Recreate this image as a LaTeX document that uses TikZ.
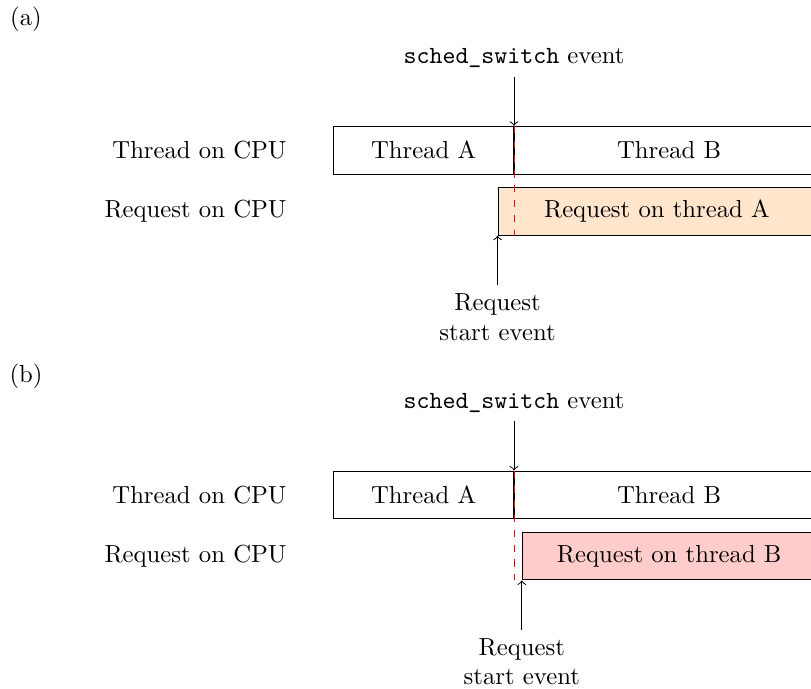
\documentclass[tikz,border=0pt]{standalone}
\usetikzlibrary{positioning}
\begin{document}
\begin{tikzpicture}[slot/.style={draw, minimum height=0.68cm, inner sep=0pt, anchor=north west}, cpu/.style={anchor=east}, evt/.style={align=center}]
	\useasboundingbox (0,0) rectangle (11.54,-9.80);
	% (a) request starts before the switch
	\node (tag-a) at (0.37,-0.28) {(a)};
	\node[slot, minimum width=2.56cm] (thrA-a) at (4.74,-1.79) {Thread A};
	\node[slot, minimum width=4.4cm] (thrB-a) at (thrA-a.north east) {Thread B};
	\node[slot, minimum width=4.52cm, fill=orange!20] (req-a) at (7.08,-2.66) {Request on thread A};
	\node[left=0.54cm of thrA-a] (cputhr-a) {Thread on CPU};
	\node[cpu] (cpureq-a) at (cputhr-a.east |- req-a) {Request on CPU};
	\node[above=0.7cm of thrA-a.north east] (switch-a) {\texttt{sched\_switch} event};
	\node[evt, below=0.7cm of req-a.south west] (start-a) {Request\\start event};
	%%%%%%%%%%%%%
	\draw[red, dashed] (thrA-a.north east) -- (thrA-a.north east |- req-a.south);
	\draw[->] (switch-a) -- (thrA-a.north east);
	\draw[->] (start-a) -- (req-a.south west);
	% (b) request starts after the switch
	\node (tag-b) at (0.37,-5.36) {(b)};
	\node[slot, minimum width=2.56cm] (thrA-b) at (4.74,-6.695) {Thread A};
	\node[slot, minimum width=4.4cm] (thrB-b) at (thrA-b.north east) {Thread B};
	\node[slot, minimum width=4.18cm, fill=red!20] (req-b) at (7.425,-7.565) {Request on thread B};
	\node[left=0.54cm of thrA-b] (cputhr-b) {Thread on CPU};
	\node[cpu] (cpureq-b) at (cputhr-b.east |- req-b) {Request on CPU};
	\node[above=0.7cm of thrA-b.north east] (switch-b) {\texttt{sched\_switch} event};
	\node[evt, below=0.7cm of req-b.south west] (start-b) {Request\\start event};
	%%%%%%%%%%%%%
	\draw[red, dashed] (thrA-b.north east) -- (thrA-b.north east |- req-b.south);
	\draw[->] (switch-b) -- (thrA-b.north east);
	\draw[->] (start-b) -- (req-b.south west);
\end{tikzpicture}
\end{document}
